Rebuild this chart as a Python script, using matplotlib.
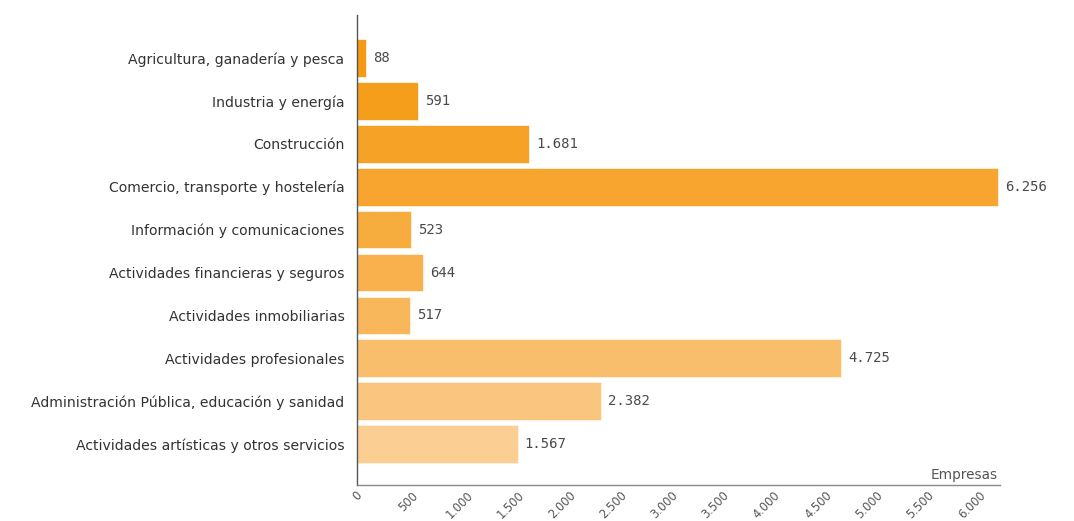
import matplotlib
matplotlib.use("Agg")
import matplotlib.pyplot as plt
from matplotlib.ticker import FixedLocator

categories = [
    "Agricultura, ganadería y pesca",
    "Industria y energía",
    "Construcción",
    "Comercio, transporte y hostelería",
    "Información y comunicaciones",
    "Actividades financieras y seguros",
    "Actividades inmobiliarias",
    "Actividades profesionales",
    "Administración Pública, educación y sanidad",
    "Actividades artísticas y otros servicios",
]
values = [88, 591, 1681, 6256, 523, 644, 517, 4725, 2382, 1567]
value_labels = ["88", "591", "1.681", "6.256", "523", "644", "517", "4.725", "2.382", "1.567"]
tick_values = [0, 500, 1000, 1500, 2000, 2500, 3000, 3500, 4000, 4500, 5000, 5500, 6000]
tick_labels = ["0", "500", "1.000", "1.500", "2.000", "2.500", "3.000", "3.500",
               "4.000", "4.500", "5.000", "5.500", "6.000"]
colors = ["#F59A12", "#F59E1C", "#F6A226", "#F7A52E", "#F7AC3E",
          "#F8B14C", "#F8B75A", "#F9BE6C", "#FAC67F", "#FBCE93"]

fig = plt.figure(figsize=(10.74, 5.21), dpi=100)
fig.patch.set_facecolor("white")
ax = fig.add_axes([357/1074, 36/521, (1000-357)/1074, (485-15)/521])

y = list(range(len(categories)))
ax.barh(y, values, height=0.88, color=colors, edgecolor="#FFF3E0", linewidth=0.6)

for yi, v, lab in zip(y, values, value_labels):
    ax.text(v + 70, yi, lab, va="center", ha="left", fontsize=10,
            family="DejaVu Sans Mono", color="#4a4a4a")

ax.set_xlim(0, 6275)
ax.set_ylim(9.95, -1.0)
ax.set_yticks(y)
ax.set_yticklabels(categories, fontsize=10.1, color="#333333")
ax.xaxis.set_major_locator(FixedLocator(tick_values))
ax.set_xticklabels(tick_labels, rotation=45, ha="center", fontsize=8.3, color="#555555")
ax.tick_params(axis="both", length=0)
ax.tick_params(axis="y", pad=9)
ax.tick_params(axis="x", pad=3)

for s in ["top", "right"]:
    ax.spines[s].set_visible(False)
ax.spines["left"].set_color("#555555")
ax.spines["bottom"].set_color("#888888")
ax.spines["left"].set_linewidth(1.0)
ax.spines["bottom"].set_linewidth(1.0)

ax.text(0.997, 0.006, "Empresas", transform=ax.transAxes, ha="right", va="bottom",
        fontsize=9.8, color="#555555")

fig.savefig("out.png", dpi=100)
